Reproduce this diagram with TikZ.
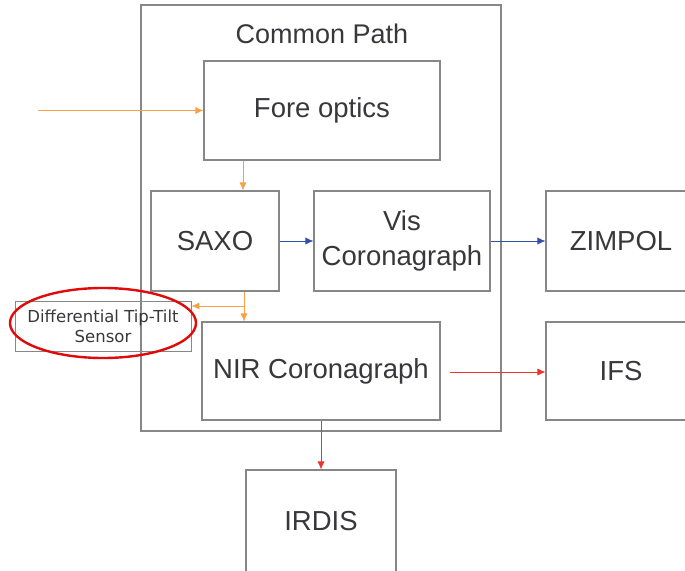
\documentclass[tikz,border=0pt]{standalone}
\usepackage{fontspec}
\setmainfont{Liberation Sans}
\newfontfamily\dejavu{DejaVu Sans}
\usetikzlibrary{arrows.meta, positioning, shapes.geometric}
\definecolor{boxgray}{RGB}{135, 135, 135}
\definecolor{textgray}{RGB}{55, 55, 60}
\definecolor{lightorange}{RGB}{250, 160, 70}
\definecolor{pathblue}{RGB}{50, 80, 170}
\definecolor{pathred}{RGB}{240, 50, 45}
\definecolor{ringred}{RGB}{225, 10, 10}

\begin{document}
\begin{tikzpicture}[
    x=1pt, y=-1pt,
    blk/.style={rectangle, draw=boxgray, line width=1.1pt, text=textgray, font=\fontsize{27.5}{35}\selectfont, align=center, inner sep=0pt},
    arr/.style={-{Latex[length=8pt, width=7pt]}, line width=0.7pt}
  ]
    \useasboundingbox (0,0) rectangle (685,570);

    % outer frame
    \node[blk, minimum width=360pt, minimum height=426pt] (common) at (321,218) {};
    \node[text=textgray, font=\fontsize{27}{32}\selectfont] (title) at (322,34) {Common Path};

    % blocks
    \node[blk, minimum width=236pt, minimum height=99pt] (fore) at (322,110.5) {Fore optics};
    \node[blk, minimum width=128pt, minimum height=100pt] (saxo) at (215,241) {SAXO};
    \node[blk, minimum width=176pt, minimum height=100pt] (vis) at (402,241) {Vis\\Coronagraph};
    \node[blk, minimum width=238pt, minimum height=98pt] (nir) at (321,371) {NIR Coronagraph};
    \node[blk, minimum width=150pt, minimum height=102pt] (irdis) at (321,521) {IRDIS};
    \node[blk, minimum width=150pt, minimum height=100pt] (zimpol) at (621,241) {ZIMPOL};
    \node[blk, minimum width=150pt, minimum height=98pt] (ifs) at (621,371) {IFS};
    \node[rectangle, draw=boxgray, line width=0.9pt, text=textgray, align=center, inner sep=0pt,
          minimum width=176pt, minimum height=50pt, font=\dejavu\fontsize{16.5}{20}\selectfont] (dtt) at (103,326) {Differential Tip-Tilt\\Sensor};
    \node[ellipse, draw=ringred, line width=2.4pt, minimum width=186pt, minimum height=70pt] (ring) at (103,323) {};

    % connectors
    \coordinate (input) at (38,110.5);
    \coordinate (split) at (244,306);
    \coordinate (nirout) at (450,372);

    \draw[arr, lightorange] (input) -- (fore.west);
    \draw[arr, lightorange] (fore.south -| 243,0) -- (saxo.north -| 243,0);
    \draw[arr, lightorange] (saxo.south -| split) -- (nir.north -| split);
    \draw[arr, lightorange] (split) -- (dtt.east |- split);
    \draw[arr, pathblue] (saxo) -- (vis);
    \draw[arr, pathblue] (vis) -- (zimpol);
    \draw[arr, pathred] (nirout) -- (ifs.west |- nirout);
    \draw[arr, pathred] (nir) -- (irdis);
\end{tikzpicture}
\end{document}
